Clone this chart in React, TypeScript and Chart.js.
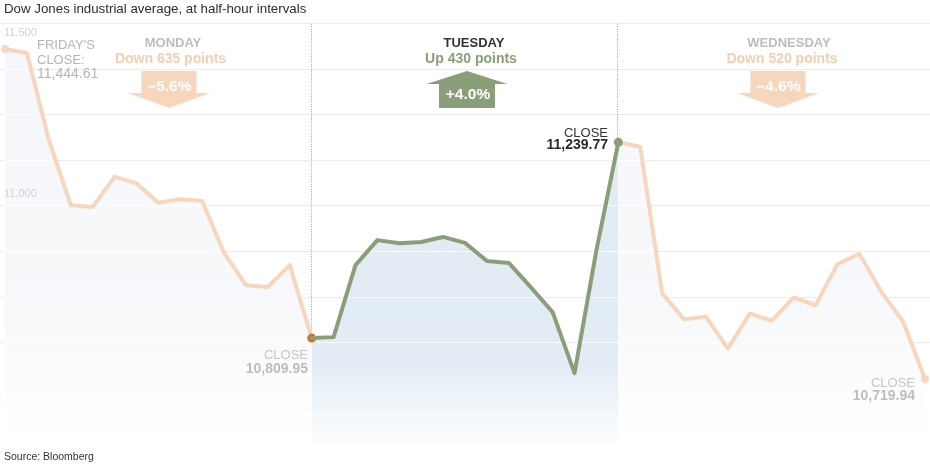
import React, { useEffect, useRef } from "react";
import { Chart, registerables } from "chart.js";

Chart.register(...registerables);

// Dow Jones industrial average, half-hour intervals
// Monday series starts with Friday's close; each next day starts at previous close
const mondayValues = [11444.61, 11436, 11245, 11102, 11098, 11164, 11150, 11107, 11115, 11111, 10997, 10926, 10922, 10970, 10809.95];
const tuesdayValues = [10809.95, 10812, 10970, 11025, 11018, 11021, 11032, 11019, 10979, 10975, 10922, 10867, 10733, 11003, 11239.77];
const wednesdayValues = [11239.77, 11230, 10908, 10851, 10857, 10787, 10864, 10848, 10899, 10882, 10972, 10995, 10912, 10846, 10719.94];

const gridValues = [10800, 10900, 11000, 11100, 11200, 11300, 11400, 11500];
const yTickLabels = ["11,500", "11,000"];
const dayNames = ["MONDAY", "TUESDAY", "WEDNESDAY"];
const dayChanges = ["Down 635 points", "Up 430 points", "Down 520 points"];
const dayPercents = ["–5.6%", "+4.0%", "–4.6%"];
const closeValues = ["10,809.95", "11,239.77", "10,719.94"];
const fridayLabel = ["FRIDAY'S", "CLOSE:", "11,444.61"];
const titleText = "Dow Jones industrial average, at half-hour intervals";
const sourceText = "Source: Bloomberg";

const FONT = "'Liberation Sans', Arial, Helvetica, sans-serif";
const PEACH_LINE = "#f6d7be";
const PEACH_TEXT = "#f3cfb1";
const PEACH_ARROW = "#f6d6bd";
const GREEN = "#8a9f79";
const ORANGE = "#e06a2a";
const GRAY_DAY = "#bdbdbd";

const toPoints = (vals: number[], offset: number) => vals.map((v, i) => ({ x: offset + i, y: v }));

function alignPx(p: number) {
  return Math.round(p - 0.5) + 0.5;
}

function txt(ctx: CanvasRenderingContext2D, s: string, x: number, y: number, font: string, color: string, align: CanvasTextAlign) {
  ctx.font = font;
  ctx.fillStyle = color;
  ctx.textAlign = align;
  ctx.textBaseline = "alphabetic";
  ctx.fillText(s, x, y);
}

const overlayPlugin = {
  id: "overlay",
  beforeDatasetsDraw(chart: any) {
    const { ctx, chartArea, scales } = chart;
    const y = scales.y;
    // light grid lines over the filled areas
    ctx.save();
    ctx.beginPath();
    chart.data.datasets.forEach((_: any, di: number) => {
      const pts = chart.getDatasetMeta(di).data;
      ctx.moveTo(pts[0].x, chartArea.bottom);
      pts.forEach((p: any) => ctx.lineTo(p.x, p.y));
      ctx.lineTo(pts[pts.length - 1].x, chartArea.bottom);
      ctx.closePath();
    });
    ctx.clip();
    ctx.strokeStyle = "rgba(255,255,255,0.8)";
    ctx.lineWidth = 1;
    gridValues.forEach((v) => {
      const py = alignPx(y.getPixelForValue(v));
      ctx.beginPath();
      ctx.moveTo(chartArea.left, py);
      ctx.lineTo(chartArea.right, py);
      ctx.stroke();
    });
    ctx.restore();

    // dotted day separators (Tuesday and Wednesday openings), from top gridline down to the closing points
    const top = y.getPixelForValue(gridValues[gridValues.length - 1]);
    ctx.save();
    ctx.strokeStyle = "#9a9a9a";
    ctx.lineWidth = 1;
    ctx.setLineDash([1, 1.5]);
    [0, 2].forEach((di) => {
      const p = chart.getDatasetMeta(di).data[0];
      const px = Math.round(p.x) - 0.5;
      ctx.beginPath();
      ctx.moveTo(px, top);
      ctx.lineTo(px, p.y - 4);
      ctx.stroke();
    });
    ctx.restore();
  },
  afterDatasetsDraw(chart: any) {
    const { ctx } = chart;
    ctx.save();
    // title & source
    txt(ctx, titleText, 4, 13, `13.3px ${FONT}`, "#2e2e2e", "left");
    txt(ctx, sourceText, 4, 460, `10.5px ${FONT}`, "#333", "left");

    // y labels (as placed in the original)
    txt(ctx, yTickLabels[0], 4, 36, `11px ${FONT}`, "#d2d2d2", "left");
    txt(ctx, yTickLabels[1], 4, 197, `11px ${FONT}`, "#d2d2d2", "left");

    // Friday close label
    txt(ctx, fridayLabel[0], 37, 49, `13px ${FONT}`, "#b5b5b5", "left");
    txt(ctx, fridayLabel[1], 37, 64, `13px ${FONT}`, "#b5b5b5", "left");
    txt(ctx, fridayLabel[2], 37, 78, `14px ${FONT}`, "#b5b5b5", "left");

    // day headers
    const nameX = [173, 474, 789];
    const chgX = [170.5, 471, 782];
    const nameColor = [GRAY_DAY, "#333333", GRAY_DAY];
    const chgColor = [PEACH_TEXT, GREEN, PEACH_TEXT];
    for (let i = 0; i < 3; i++) {
      txt(ctx, dayNames[i], nameX[i], 47, `bold 13px ${FONT}`, nameColor[i], "center");
      txt(ctx, dayChanges[i], chgX[i], 63, `bold 14px ${FONT}`, chgColor[i], "center");
    }

    // arrows
    const drawDown = (cx: number, color: string, label: string) => {
      ctx.fillStyle = color;
      ctx.beginPath();
      ctx.moveTo(cx - 27.5, 71);
      ctx.lineTo(cx + 27.5, 71);
      ctx.lineTo(cx + 27.5, 93);
      ctx.lineTo(cx + 41, 93);
      ctx.lineTo(cx, 108);
      ctx.lineTo(cx - 41, 93);
      ctx.lineTo(cx - 27.5, 93);
      ctx.closePath();
      ctx.fill();
      txt(ctx, label, cx + 0.5, 91, `bold 15.5px ${FONT}`, "#ffffff", "center");
    };
    const drawUp = (cx: number, color: string, label: string) => {
      ctx.fillStyle = color;
      ctx.beginPath();
      ctx.moveTo(cx, 71);
      ctx.lineTo(cx + 40.5, 84);
      ctx.lineTo(cx + 28, 84);
      ctx.lineTo(cx + 28, 108);
      ctx.lineTo(cx - 28, 108);
      ctx.lineTo(cx - 28, 84);
      ctx.lineTo(cx - 40.5, 84);
      ctx.closePath();
      ctx.fill();
      txt(ctx, label, cx + 1, 98.5, `bold 15.5px ${FONT}`, "#ffffff", "center");
    };
    drawDown(169, PEACH_ARROW, dayPercents[0]);
    drawUp(467, GREEN, dayPercents[1]);
    drawDown(778, PEACH_ARROW, dayPercents[2]);

    // close labels
    txt(ctx, "CLOSE", 308, 359, `13px ${FONT}`, "#c6c6c6", "right");
    txt(ctx, closeValues[0], 308, 373, `bold 14px ${FONT}`, "#bdbdbd", "right");
    txt(ctx, "CLOSE", 608, 137, `13px ${FONT}`, "#333333", "right");
    txt(ctx, closeValues[1], 608, 149, `bold 14px ${FONT}`, "#2a2a2a", "right");
    txt(ctx, "CLOSE", 915, 387, `13px ${FONT}`, "#c6c6c6", "right");
    txt(ctx, closeValues[2], 915, 400, `bold 14px ${FONT}`, "#bdbdbd", "right");
    ctx.restore();
  },
};

function grad(ctx: any, stops: [number, string][]) {
  const ca = ctx.chart.chartArea;
  if (!ca) return "rgba(0,0,0,0)";
  const g = ctx.chart.ctx.createLinearGradient(0, ca.top, 0, ca.bottom);
  stops.forEach(([o, c]) => g.addColorStop(o, c));
  return g;
}

const sideStops: [number, string][] = [
  [0, "#f4f6fa"],
  [0.7, "#f8f9fb"],
  [0.95, "#ffffff"],
  [1, "#ffffff"],
];
const tueStops: [number, string][] = [
  [0, "#e1ebf4"],
  [0.78, "#e3ecf5"],
  [0.95, "#fcfdfe"],
  [0.955, "#ffffff"],
  [1, "#ffffff"],
];

function radii(n: number, first: number, last: number) {
  return Array.from({ length: n }, (_, i) => (i === 0 ? first : i === n - 1 ? last : 0));
}

export default function App() {
  const ref = useRef<HTMLCanvasElement | null>(null);
  useEffect(() => {
    if (!ref.current) return;
    const pxPerIdx = 920 / 42;
    const chart = new Chart(ref.current, {
      type: "line",
      data: {
        datasets: [
          {
            data: toPoints(tuesdayValues, 14),
            borderColor: GREEN,
            borderWidth: 4,
            fill: "start",
            backgroundColor: (c: any) => grad(c, tueStops),
            pointRadius: radii(tuesdayValues.length, 0, 4.5),
            pointBackgroundColor: GREEN,
            pointBorderWidth: 0,
            tension: 0,
            order: 0,
          },
          {
            data: toPoints(mondayValues, 0),
            borderColor: PEACH_LINE,
            borderWidth: 4,
            fill: "start",
            backgroundColor: (c: any) => grad(c, sideStops),
            pointRadius: radii(mondayValues.length, 4, 4.5),
            pointBackgroundColor: mondayValues.map((_, i) => (i === mondayValues.length - 1 ? ORANGE : PEACH_LINE)),
            pointBorderWidth: 0,
            tension: 0,
            order: 1,
          },
          {
            data: toPoints(wednesdayValues, 28),
            borderColor: PEACH_LINE,
            borderWidth: 4,
            fill: "start",
            backgroundColor: (c: any) => grad(c, sideStops),
            pointRadius: radii(wednesdayValues.length, 0, 4),
            pointBackgroundColor: PEACH_LINE,
            pointBorderWidth: 0,
            tension: 0,
            order: 2,
          },
        ],
      },
      options: {
        animation: false,
        responsive: true,
        maintainAspectRatio: false,
        events: [],
        layout: { padding: 0, autoPadding: false },
        elements: { line: { borderJoinStyle: "round", borderCapStyle: "round" } },
        plugins: {
          legend: { display: false },
          tooltip: { enabled: false },
          filler: { drawTime: "beforeDatasetsDraw" },
        },
        scales: {
          x: {
            type: "linear",
            display: false,
            min: -5 / pxPerIdx,
            max: 42 + 5 / pxPerIdx,
          },
          y: {
            type: "linear",
            min: 10531.2,
            max: 11552.3,
            border: { display: false },
            grid: { color: "#ececec", lineWidth: 1, drawTicks: false },
            ticks: { display: false },
            afterBuildTicks: (s: any) => {
              s.ticks = gridValues.map((v) => ({ value: v }));
            },
            afterFit: (s: any) => {
              s.width = 0;
            },
          },
        },
      },
      plugins: [overlayPlugin],
    } as any);
    return () => chart.destroy();
  }, []);
  return (
    <div style={{ position: "absolute", left: 0, top: 0, width: 930, height: 465, background: "#fff" }}>
      <canvas ref={ref} />
    </div>
  );
}
